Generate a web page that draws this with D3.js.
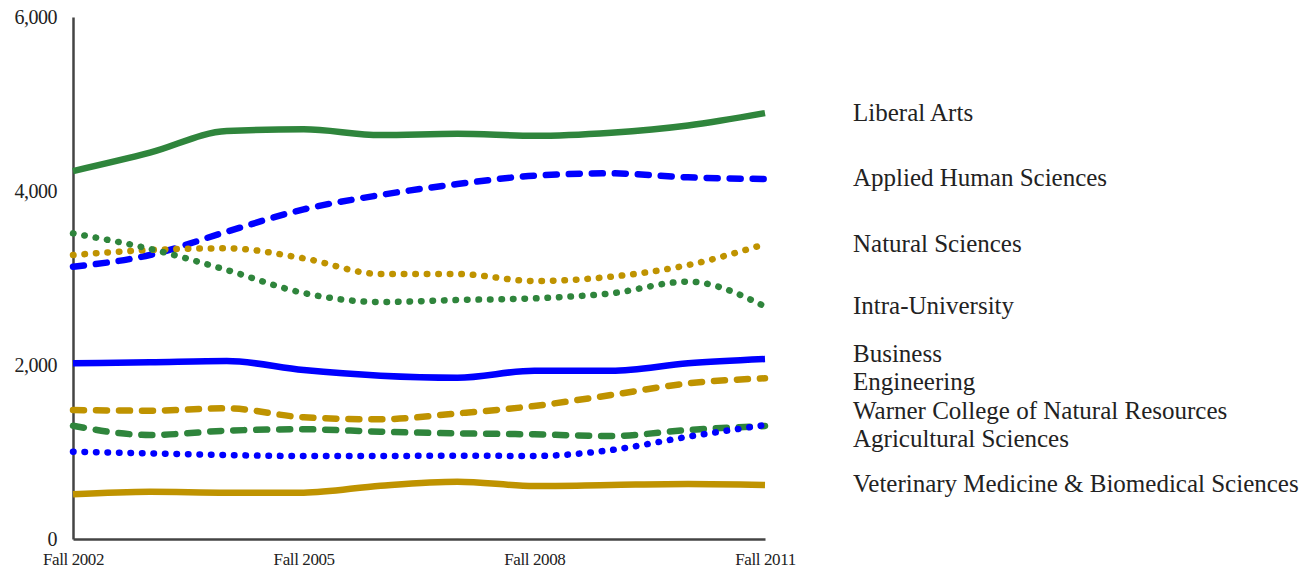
<!DOCTYPE html>
<html><head><meta charset="utf-8">
<script src="https://cdn.jsdelivr.net/npm/d3@7"></script>
<style>
html,body{margin:0;padding:0;background:#fff;}
svg{display:block;}
text{font-family:"Liberation Serif","DejaVu Serif",serif;fill:#222;}
</style></head>
<body>
<svg id="chart" width="1313" height="571"></svg>
<script>
const years = ["Fall 2002","Fall 2003","Fall 2004","Fall 2005","Fall 2006","Fall 2007","Fall 2008","Fall 2009","Fall 2010","Fall 2011"];
const xTickLabels = ["Fall 2002","Fall 2005","Fall 2008","Fall 2011"];
const yTicks = [0, 2000, 4000, 6000];

const seriesNames = ["Liberal Arts","Applied Human Sciences","Natural Sciences","Intra-University","Business","Engineering","Warner College of Natural Resources","Agricultural Sciences","Veterinary Medicine & Biomedical Sciences"];

const liberalArts     = [4229, 4440, 4690, 4709, 4643, 4658, 4634, 4670, 4753, 4895];
const appliedHuman    = [3130, 3264, 3532, 3789, 3954, 4080, 4176, 4203, 4157, 4138];
const naturalSciences = [3264, 3322, 3341, 3226, 3046, 3046, 2965, 3015, 3149, 3390];
const intraUniversity = [3513, 3335, 3092, 2827, 2724, 2747, 2766, 2824, 2958, 2672];
const business        = [2019, 2031, 2046, 1942, 1877, 1854, 1935, 1935, 2019, 2069];
const engineering     = [1483, 1475, 1502, 1399, 1376, 1444, 1529, 1655, 1789, 1847];
const warner          = [1302, 1195, 1245, 1261, 1233, 1214, 1203, 1184, 1253, 1299];
const agricultural    = [1004,  985,  965,  954,  954,  958,  954, 1023, 1176, 1310];
const vetMed          = [ 514,  544,  533,  533,  613,  659,  609,  621,  632,  621];

const seriesValues = [liberalArts, appliedHuman, naturalSciences, intraUniversity, business, engineering, warner, agricultural, vetMed];

const seriesColors = ["#2f853c","#0000ff","#bf9300","#2f853c","#0000ff","#bf9300","#2f853c","#0000ff","#bf9300"];
const seriesStyles = ["solid","dashed","dotted","dotted","solid","dashed","dashed","dotted","solid"];
const dashFor = {solid: null, dashed: "11,12", dotted: "0.5,11"};

const svg = d3.select("#chart");
const mLeft = 73, mRight = 765, mTop = 17, mBottom = 539;

const x = d3.scalePoint().domain(years).range([mLeft, mRight]);
const y = d3.scaleLinear().domain([0, 6000]).range([mBottom, mTop]);

// axes
const yAxis = svg.append("g").attr("transform", `translate(${mLeft},0)`)
  .call(d3.axisLeft(y).tickValues(yTicks).tickSize(0).tickPadding(16).tickFormat(d3.format(",")));
yAxis.select(".domain").attr("stroke","#444").attr("stroke-width",2.5);
yAxis.selectAll("text").attr("font-size","20px").attr("fill","#222").attr("font-family","Liberation Serif, serif").attr("letter-spacing","-0.5px");

const xAxis = svg.append("g").attr("transform", `translate(0,${mBottom})`)
  .call(d3.axisBottom(x).tickValues(xTickLabels).tickSize(0).tickPadding(14));
xAxis.select(".domain").attr("stroke","#444").attr("stroke-width",2.5);
xAxis.selectAll("text").attr("font-size","17px").attr("fill","#222").attr("font-family","Liberation Serif, serif").attr("letter-spacing","-0.4px");

const line = d3.line().x((d,i)=>x(years[i])).y(d=>y(d)).curve(d3.curveMonotoneX);

seriesValues.forEach((vals, k) => {
  const p = svg.append("path").datum(vals)
    .attr("d", line)
    .attr("fill","none")
    .attr("stroke", seriesColors[k])
    .attr("stroke-width", 6.5)
    .attr("stroke-linejoin","round");
  const ds = dashFor[seriesStyles[k]];
  if (ds) p.attr("stroke-dasharray", ds).attr("stroke-linecap","round");
});

// labels: start at line end, relax to avoid overlap (keep series order)
const minGap = 28;
let ly = seriesValues.map(v => y(v[v.length-1]));
for (let iter = 0; iter < 300; iter++) {
  for (let i = 0; i < ly.length - 1; i++) {
    const d = ly[i+1] - ly[i];
    if (d < minGap) {
      const push = (minGap - d) / 2;
      ly[i] -= push; ly[i+1] += push;
    }
  }
}
svg.append("g").selectAll("text").data(seriesNames).join("text")
  .attr("x", 853)
  .attr("y", (d,i)=>ly[i])
  .attr("dy","0.3em")
  .attr("font-size","25px")
  .text(d=>d);
</script>
</body></html>
